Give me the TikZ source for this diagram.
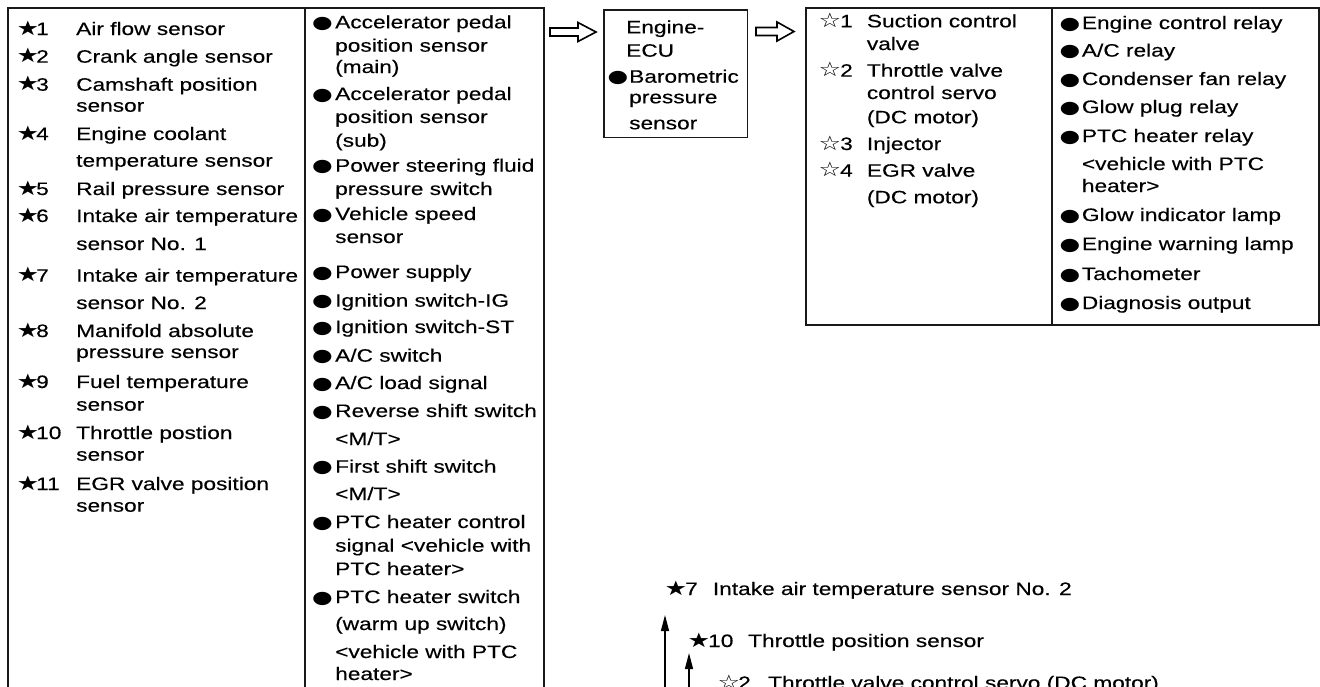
\documentclass[tikz,border=0pt]{standalone}
\usepackage{fontspec}
\setmainfont{Liberation Sans}[FakeStretch=1.26,FakeBold=0.3]
\newfontfamily\symf{DejaVu Sans}[FakeStretch=1.26]
\newfontfamily\dotf{DejaVu Sans}[FakeStretch=1.35]
\usetikzlibrary{arrows.meta}
\newcounter{nd}
\tikzset{
  txt/.style={anchor=base west, inner sep=0pt, text=black, font=\fontsize{18}{21}\selectfont},
  sym/.style={anchor=base west, inner sep=0pt, text=black, font=\symf\fontsize{20}{23}\selectfont},
  dot/.style={anchor=base west, inner sep=0pt, text=black, font=\dotf\fontsize{17.5}{21}\selectfont},
  frame/.style={draw=black!90, line width=1.6pt},
  hollow/.style={draw=black, line width=1.6pt, fill=white, line join=miter},
  uparrow/.style={draw=black, line width=1.3pt, -{Triangle[length=16pt,width=8pt]}},
}
\newcommand\putT[3]{\stepcounter{nd}\node[txt] (t\arabic{nd}) at (#1,#2) {#3};}
\newcommand\putS[3]{\stepcounter{nd}\node[sym] (s\arabic{nd}) at (#1,#2) {#3};}
\newcommand\putD[2]{\stepcounter{nd}\node[dot] (d\arabic{nd}) at (#1,#2) {●};}
% hollow arrow: name, tail x, centre y, length, head length
\newcommand\hollowarrow[5]{%
  \coordinate (#1) at (#2,#3);
  \draw[hollow] (#1) ++(0,-4) -- ++(#4-#5,0) -- ++(0,-5.5) -- ++(#5,9.5) -- ++(-#5,9.5) -- ++(0,-5.5) -- ++(-#4+#5,0) -- cycle;}
\begin{document}
\begin{tikzpicture}[x=1pt,y=-1pt]
\useasboundingbox[fill=white] (0,0) rectangle (1320,686);

% ---------- input box ----------
\node[frame, anchor=north west, minimum width=536pt, minimum height=690pt, inner sep=0pt] (inbox) at (7,7) {};
\draw[frame] (305,7) -- (305,697);

% left column
\putS{16.5}{35}{★}\putT{36}{35}{1}\putT{76}{35}{Air flow sensor}
\putS{16.5}{62.7}{★}\putT{36}{62.7}{2}\putT{76}{62.7}{Crank angle sensor}
\putS{16.5}{90.7}{★}\putT{36}{90.7}{3}\putT{76}{90.7}{Camshaft position}
\putT{76}{111.7}{sensor}
\putS{16.5}{140}{★}\putT{36}{140}{4}\putT{76}{140}{Engine coolant}
\putT{76}{166.7}{temperature sensor}
\putS{16.5}{195}{★}\putT{36}{195}{5}\putT{76}{195}{Rail pressure sensor}
\putS{16.5}{222}{★}\putT{36}{222}{6}\putT{76}{222}{Intake air temperature}
\putT{76}{250}{sensor No. 1}
\putS{16.5}{281.7}{★}\putT{36}{281.7}{7}\putT{76}{281.7}{Intake air temperature}
\putT{76}{309}{sensor No. 2}
\putS{16.5}{337}{★}\putT{36}{337}{8}\putT{76}{337}{Manifold absolute}
\putT{76}{358}{pressure sensor}
\putS{16.5}{388}{★}\putT{36}{388}{9}\putT{76}{388}{Fuel temperature}
\putT{76}{410.7}{sensor}
\putS{16.5}{439}{★}\putT{36}{439}{10}\putT{76}{439}{Throttle postion}
\putT{76}{460.7}{sensor}
\putS{16.5}{490}{★}\putT{36}{490}{11}\putT{76}{490}{EGR valve position}
\putT{76}{511.7}{sensor}

% middle column
\putD{312}{28.3}\putT{335}{28.3}{Accelerator pedal}
\putT{335}{51.7}{position sensor}
\putT{335}{73}{(main)}
\putD{312}{100}\putT{335}{100}{Accelerator pedal}
\putT{335}{123}{position sensor}
\putT{335}{146.7}{(sub)}
\putD{312}{171.7}\putT{335}{171.7}{Power steering fluid}
\putT{335}{195}{pressure switch}
\putD{312}{220}\putT{335}{220}{Vehicle speed}
\putT{335}{243}{sensor}
\putD{312}{278}\putT{335}{278}{Power supply}
\putD{312}{306.7}\putT{335}{306.7}{Ignition switch-IG}
\putD{312}{333}\putT{335}{333}{Ignition switch-ST}
\putD{312}{361.7}\putT{335}{361.7}{A/C switch}
\putD{312}{389}\putT{335}{389}{A/C load signal}
\putD{312}{417}\putT{335}{417}{Reverse shift switch}
\putT{335}{445}{<M/T>}
\putD{312}{472.7}\putT{335}{472.7}{First shift switch}
\putT{335}{500}{<M/T>}
\putD{312}{528}\putT{335}{528}{PTC heater control}
\putT{335}{551.7}{signal <vehicle with}
\putT{335}{575}{PTC heater>}
\putD{312}{603}\putT{335}{603}{PTC heater switch}
\putT{335}{630}{(warm up switch)}
\putT{335}{658}{<vehicle with PTC}
\putT{335}{680}{heater>}

% ---------- arrow 1 ----------
\hollowarrow{arA}{550}{32}{46}{18}

% ---------- ECU box ----------
\node[frame, anchor=north west, minimum width=143.4pt, minimum height=127.7pt, inner sep=0pt] (ecu) at (603.3,9) {};
\putT{626}{33.3}{Engine-}
\putT{626}{56.7}{ECU}
\putD{607.5}{82.7}\putT{629}{82.7}{Barometric}
\putT{629}{103.3}{pressure}
\putT{629}{129.3}{sensor}

% ---------- arrow 2 ----------
\hollowarrow{arB}{756}{31.5}{38}{17}

% ---------- output box ----------
\node[frame, anchor=north west, minimum width=513.3pt, minimum height=316.7pt, inner sep=0pt] (outbox) at (805,7.3) {};
\draw[frame] (1051.7,7.3) -- (1051.7,324);

\putS{818.5}{27.3}{☆}\putT{840}{27.3}{1}\putT{866.7}{27.3}{Suction control}
\putT{866.7}{50}{valve}
\putS{818.5}{76.7}{☆}\putT{840}{76.7}{2}\putT{866.7}{76.7}{Throttle valve}
\putT{866.7}{99}{control servo}
\putT{866.7}{123.3}{(DC motor)}
\putS{818.5}{150}{☆}\putT{840}{150}{3}\putT{866.7}{150}{Injector}
\putS{818.5}{176.7}{☆}\putT{840}{176.7}{4}\putT{866.7}{176.7}{EGR valve}
\putT{866.7}{203.3}{(DC motor)}

\putD{1059.5}{29}\putT{1081.7}{29}{Engine control relay}
\putD{1059.5}{56.6}\putT{1081.7}{56.6}{A/C relay}
\putD{1059.5}{85}\putT{1081.7}{85}{Condenser fan relay}
\putD{1059.5}{113}\putT{1081.7}{113}{Glow plug relay}
\putD{1059.5}{142}\putT{1081.7}{142}{PTC heater relay}
\putT{1081.7}{170}{<vehicle with PTC}
\putT{1081.7}{192}{heater>}
\putD{1059.5}{221}\putT{1081.7}{221}{Glow indicator lamp}
\putD{1059.5}{250}\putT{1081.7}{250}{Engine warning lamp}
\putD{1059.5}{280}\putT{1081.7}{280}{Tachometer}
\putD{1059.5}{309}\putT{1081.7}{309}{Diagnosis output}

% ---------- bottom legend ----------
\putS{664.5}{595}{★}\putT{685}{595}{7}\node[txt] (b7) at (712.7,595) {Intake air temperature sensor No. 2};
\putS{687.5}{647}{★}\putT{708}{647}{10}\node[txt] (b10) at (748,647) {Throttle position sensor};
\putS{717.5}{689}{☆}\putT{738}{689}{2}\node[txt] (b2) at (768,689) {Throttle valve control servo (DC motor)};

\coordinate (f7) at (665,692);
\coordinate (h7) at (665,615);
\coordinate (f10) at (689,692);
\coordinate (h10) at (689,653);
\draw[uparrow] (f7) -- (h7);
\draw[uparrow] (f10) -- (h10);
\end{tikzpicture}
\end{document}
